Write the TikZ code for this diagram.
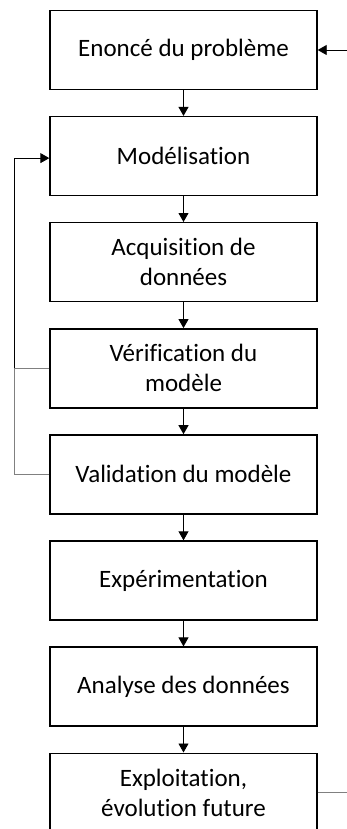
\documentclass[tikz,border=0pt]{standalone}
\usepackage{fontspec}
\setmainfont[Ligatures=NoCommon]{Carlito}
\usetikzlibrary{arrows.meta,positioning}
\tikzset{
  etape/.style={rectangle, draw=black, line width=1.4pt, fill=white,
    align=center, minimum width=267pt, minimum height=79pt,
    font=\fontsize{25}{30}\selectfont, inner sep=3pt},
  fl/.style={-{Triangle[length=9pt,width=10pt]}, draw=black, line width=0.9pt},
  retour/.style={draw=black!50, line width=1pt},
}
\begin{document}
\begin{tikzpicture}[x=1pt, y=1pt, node distance=25.7pt]
  \useasboundingbox (0,0) rectangle (347,-829);
  \node[etape] (enonce) at (183.5,-50) {Enoncé du problème};
  \node[etape, below=of enonce] (model) {Modélisation};
  \node[etape, below=of model] (acq) {Acquisition de\\données};
  \node[etape, below=of acq] (verif) {Vérification du\\modèle};
  \node[etape, below=of verif] (valid) {Validation du modèle};
  \node[etape, below=of valid] (exper) {Expérimentation};
  \node[etape, below=of exper] (analyse) {Analyse des données};
  \node[etape, below=of analyse] (exploit) {Exploitation,\\évolution future};
  \draw[fl] (enonce) -- (model);
  \draw[fl] (model) -- (acq);
  \draw[fl] (acq) -- (verif);
  \draw[fl] (verif) -- (valid);
  \draw[fl] (valid) -- (exper);
  \draw[fl] (exper) -- (analyse);
  \draw[fl] (analyse) -- (exploit);
  % boucle gauche
  \coordinate (g) at (verif.west -| 14,0);
  \draw[retour] (verif.west) -- (g);
  \draw[retour] (valid.west) -| (g);
  \draw[fl] (g) |- ([yshift=-2pt]model.west);
  % boucle droite
  \coordinate (d) at (352,0);
  \draw[retour] (exploit.east) -- (exploit.east -| d);
  \draw[fl] (enonce.east -| d) -- (enonce.east);
\end{tikzpicture}
\end{document}
